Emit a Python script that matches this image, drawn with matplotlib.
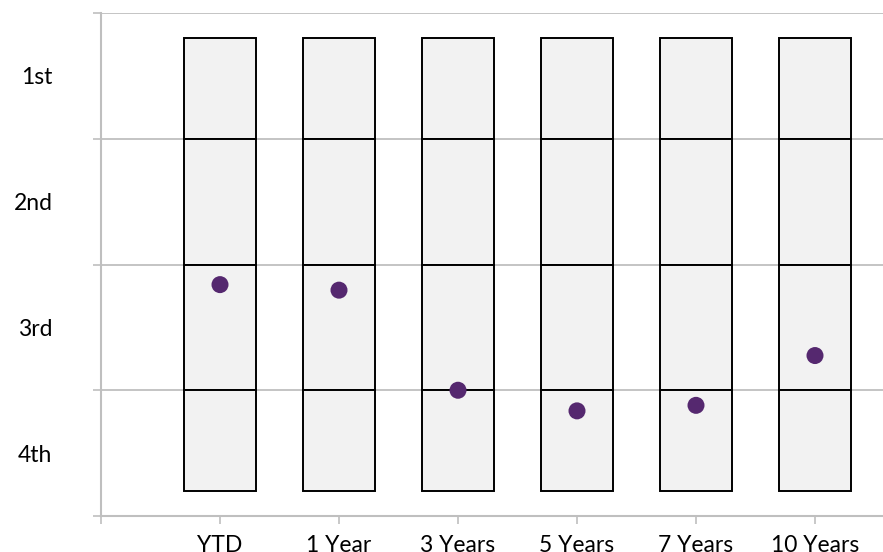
import matplotlib
matplotlib.use("Agg")
import matplotlib.pyplot as plt

# periods shown along the bottom
periods = ["YTD", "1 Year", "3 Years", "5 Years", "7 Years", "10 Years"]
# percentile rank of the fund in each period (0 = best, 100 = worst)
fund_rank = [54.0, 55.1, 75.0, 79.1, 78.0, 68.1]
# quartile band edges drawn as stacked boxes
band_edges = [5, 25, 50, 75, 95]
quartile_labels = ["1st", "2nd", "3rd", "4th"]
quartile_mids = [12.5, 37.5, 62.5, 87.5]

GRID = "#BFBFBF"
FILL = "#F2F2F2"
DOT = "#55286F"

plt.rcParams["font.family"] = ["Lato", "DejaVu Sans"]

fig = plt.figure(figsize=(8.83, 5.52), dpi=100)
ax = fig.add_axes([101 / 883, 36 / 552, 782 / 883, 503 / 552])

x = list(range(1, len(periods) + 1))

for lo, hi in zip(band_edges[:-1], band_edges[1:]):
    ax.bar(x, [hi - lo] * len(x), bottom=lo, width=0.6, color=FILL,
           edgecolor="black", linewidth=1.4, zorder=2)

ax.scatter(x, fund_rank, s=150, color=DOT, edgecolors="none", zorder=3)

ax.set_xlim(0, 782 / 119)
ax.set_ylim(100, 0)

ax.set_xticks([0] + x)
ax.set_xticklabels([""] + periods, fontsize=16.5)
ax.set_yticks([0, 25, 50, 75, 100])
ax.set_yticklabels([])
ax.set_yticks(quartile_mids, minor=True)
ax.set_yticklabels(quartile_labels, minor=True, fontsize=16.5)

ax.tick_params(axis="y", which="major", length=6, width=1.2, color=GRID)
ax.tick_params(axis="y", which="minor", length=0, pad=35)
ax.tick_params(axis="x", length=5.5, width=1.2, color=GRID, pad=8)

ax.grid(axis="y", which="major", color=GRID, linewidth=1.3, zorder=0)
ax.set_axisbelow(True)

for side in ["top", "right"]:
    ax.spines[side].set_visible(False)
for side in ["left", "bottom"]:
    ax.spines[side].set_color(GRID)
    ax.spines[side].set_linewidth(1.5)

fig.savefig("out.png", dpi=100)
